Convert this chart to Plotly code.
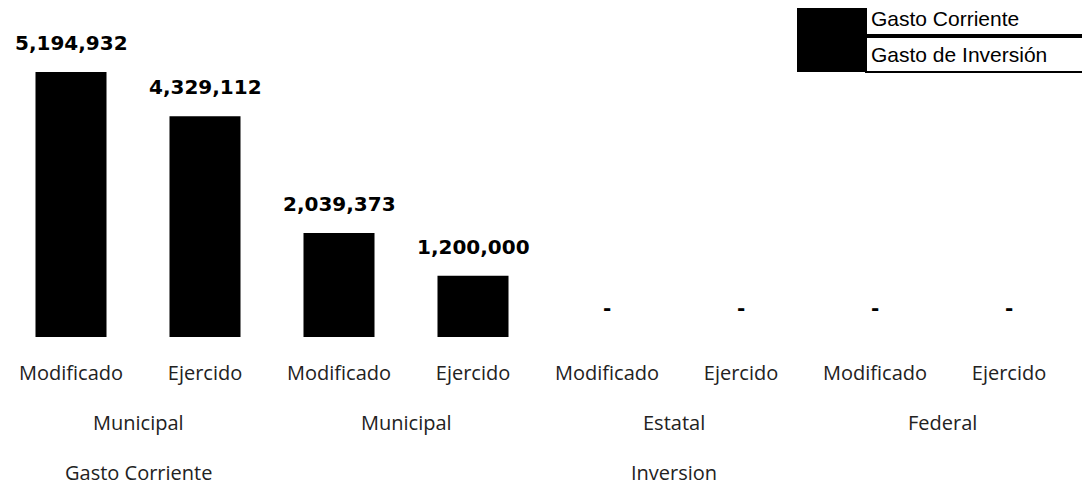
import plotly.graph_objects as go

# ---- data ----
row1_labels = ["Modificado", "Ejercido", "Modificado", "Ejercido",
               "Modificado", "Ejercido", "Modificado", "Ejercido"]
row2_groups = ["Municipal", "Municipal", "Estatal", "Federal"]
row2_spans = [(0, 1), (2, 3), (4, 5), (6, 7)]
row3_groups = ["Gasto Corriente", "Inversion"]
row3_spans = [(0, 1), (2, 7)]
series_names = ["Gasto Corriente", "Gasto de Inversión"]
corriente_x = [0, 1]
corriente_values = [5194932, 4329112]
inversion_x = [2, 3, 4, 5, 6, 7]
inversion_values = [2039373, 1200000, 0, 0, 0, 0]

# ---- layout constants (page pixels; page body has an 8px margin) ----
OFF = 8
PAGE_W, PAGE_H = 1090, 486
W, H = PAGE_W - OFF, PAGE_H - OFF
SLOT_PX = 134.0
SLOT_LEFT_PAGE = 4          # page x of slot -0.5
PLOT_LEFT_PAGE = OFF        # plot area starts at page x=8
PLOT_RIGHT_PAGE = SLOT_LEFT_PAGE + 8 * SLOT_PX
BASE_PAGE, TOP_PAGE = 337, 10
L = PLOT_LEFT_PAGE - OFF
R = PAGE_W - PLOT_RIGHT_PAGE
T = TOP_PAGE - OFF
B = PAGE_H - BASE_PAGE
PW, PH = W - L - R, H - T - B
x_start = -0.5 + (PLOT_LEFT_PAGE - SLOT_LEFT_PAGE) / SLOT_PX
y_max = 5194932 * PH / 265.0


def px_x(px):
    return (px - PLOT_LEFT_PAGE) / PW


def px_y(py):
    return (BASE_PAGE - py) / PH


fig = go.Figure()
for xs, vals, name in [(corriente_x, corriente_values, series_names[0]),
                       (inversion_x, inversion_values, series_names[1])]:
    fig.add_trace(go.Bar(x=xs, y=vals, name=name, marker_color="black",
                         marker_line_width=0, width=0.53, showlegend=False,
                         hoverinfo="skip"))

label_font = dict(family="DejaVu Sans", size=20, color="black")
for xs, vals in [(corriente_x, corriente_values), (inversion_x, inversion_values)]:
    for x, v in zip(xs, vals):
        fig.add_annotation(x=x, y=v, xref="x", yref="y",
                           text=f"<b>{v:,}</b>" if v else "<b>-</b>",
                           showarrow=False, yanchor="bottom", yshift=15,
                           font=label_font)

cat_font = dict(family="Open Sans", size=20, color="#222")
for name, (a, b) in zip(row2_groups, row2_spans):
    fig.add_annotation(x=(a + b) / 2, xref="x", y=px_y(422), yref="paper",
                       text=name, showarrow=False, yanchor="middle", font=cat_font)
for name, (a, b) in zip(row3_groups, row3_spans):
    fig.add_annotation(x=(a + b) / 2, xref="x", y=px_y(473), yref="paper",
                       text=name, showarrow=False, yanchor="middle", font=cat_font)

# ---- custom legend ----
fig.add_shape(type="rect", xref="paper", yref="paper",
              x0=px_x(797), x1=px_x(866), y0=px_y(72), y1=px_y(1),
              fillcolor="black", line_width=0)
for name, (y0, y1) in zip(series_names, [(3, 35), (37, 72)]):
    fig.add_shape(type="rect", xref="paper", yref="paper",
                  x0=px_x(866), x1=px_x(1096), y0=px_y(y1), y1=px_y(y0),
                  fillcolor="white", line=dict(color="black", width=2))
    fig.add_annotation(x=px_x(869), y=px_y((y0 + y1) / 2), xref="paper", yref="paper",
                       text=name, showarrow=False, xanchor="left", yanchor="middle",
                       font=dict(family="Liberation Sans", size=21, color="black"))

fig.update_layout(
    width=W, height=H,
    margin=dict(l=L, r=R, t=T, b=B, autoexpand=False),
    plot_bgcolor="white", paper_bgcolor="white",
    xaxis=dict(range=[x_start, 7.5], tickmode="array", tickvals=list(range(8)),
               ticktext=row1_labels, showgrid=False, zeroline=False, showline=False,
               ticks="", ticklabelstandoff=22, tickfont=cat_font),
    yaxis=dict(range=[0, y_max], visible=False),
)
fig.write_html("out.html")
